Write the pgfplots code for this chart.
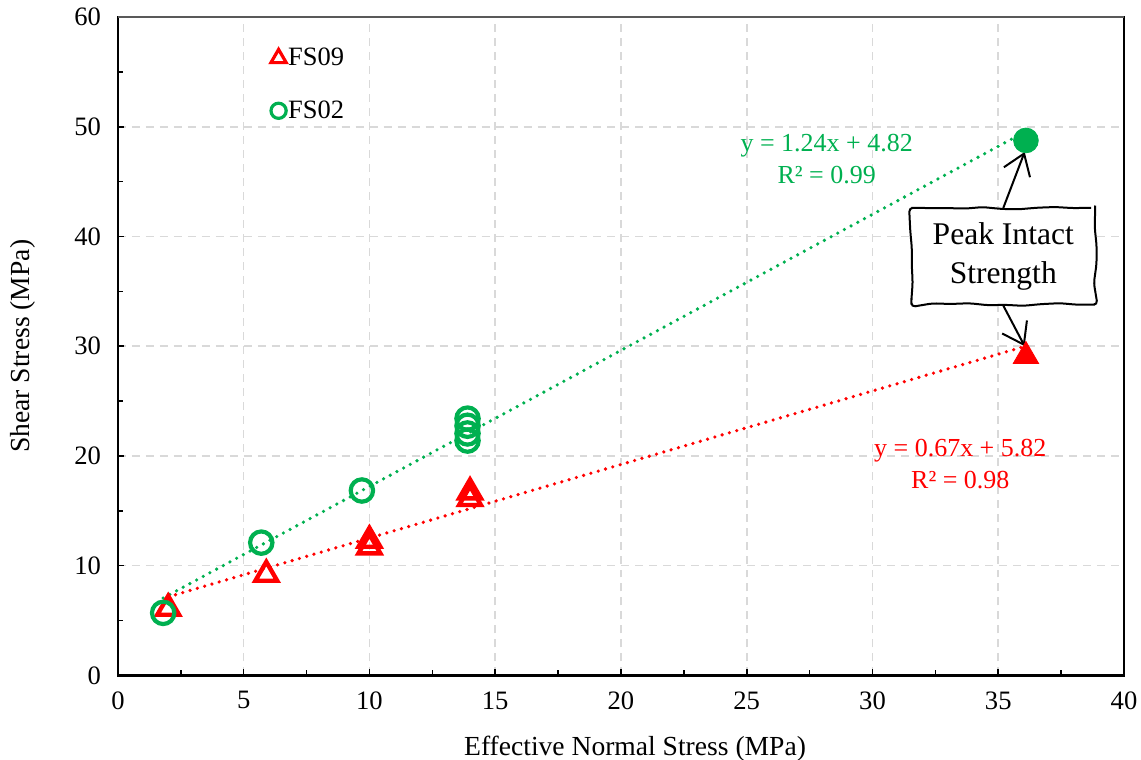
\documentclass[border=0pt]{standalone}
\usepackage{pgfplots}
\pgfplotsset{compat=1.18}
\usepackage{fontspec}
\setmainfont{Liberation Serif}
\usetikzlibrary{arrows.meta,decorations.pathmorphing}
\definecolor{xgreen}{HTML}{00B050}
\definecolor{xred}{HTML}{FF0000}
\definecolor{gridgray}{HTML}{D9D9D9}
\pgfplotstableread{
x y
2.0 6.1
5.9 9.2
10.0 12.3
10.0 11.7
14.0 16.7
14.0 16.1
}\fsnine
\pgfplotstableread{
x y
1.8 5.7
5.7 12.1
9.7 16.85
13.9 23.4
13.9 22.75
13.9 22.05
13.9 21.4
}\fstwo
\begin{document}
\pgfmathsetseed{7}
\begin{tikzpicture}
\begin{axis}[
 name=ax,
 scale only axis, width=503.5pt, height=329.5pt,
 xmin=0, xmax=40, ymin=0, ymax=60,
 xtick={0,5,...,40}, ytick={0,10,...,60},
 minor x tick num=1, minor y tick num=1,
 tick pos=left, tick align=inside,
 major tick length=3pt, minor tick length=2.5pt,
 every tick/.style={black, line width=0.8pt},
 axis line style={black, line width=1.1pt},
 grid=major, major grid style={gridgray, dash pattern=on 4pt off 3pt, line width=0.8pt},
 /pgf/number format/assume math mode=true,
 tick label style={font=\fontsize{13.3}{15}\selectfont},
 xticklabel style={yshift=-4.5pt},
 yticklabel style={xshift=-5pt},
 label style={font=\fontsize{13.8}{16}\selectfont},
 xlabel={Effective Normal Stress (MPa)},
 ylabel={Shear Stress (MPa)},
 xlabel style={at={(axis description cs:0.514,-0.112)}, anchor=center},
 ylabel style={at={(axis description cs:-0.0945,0.5)}, anchor=center},
 clip=false,
 legend cell align=left,
 legend style={at={(axis cs:6.07,57.4)}, anchor=north west, draw=none, fill=none,
   font=\fontsize{13.25}{15}\selectfont, row sep=14pt, inner sep=0pt,
   nodes={inner sep=1pt}},
]
\addlegendimage{only marks, mark=triangle, mark size=4.4pt, line width=1.6pt, xred}
\addlegendentry{FS09}
\addlegendimage{only marks, mark=o, mark size=3.8pt, line width=1.6pt, xgreen}
\addlegendentry{FS02}
% trendlines
\addplot[forget plot, xred, line width=1.8pt, line cap=round, dash pattern=on 0pt off 3.8pt]
  coordinates {(2.0,7.16) (36.1,30.01)};
\addplot[forget plot, xgreen, line width=1.8pt, line cap=round, dash pattern=on 0pt off 3.8pt]
  coordinates {(1.8,7.05) (36.1,49.58)};
% data
\addplot[forget plot, only marks, mark=triangle, mark size=6.3pt, line width=2.2pt, xred]
  table[x=x,y=y] {\fsnine};
\addplot[forget plot, only marks, mark=triangle*, mark size=7.3pt, xred]
  coordinates {(36.1,29.1)};
\addplot[forget plot, only marks, mark=o, mark size=5.6pt, line width=2.1pt, xgreen]
  table[x=x,y=y] {\fstwo};
\addplot[forget plot, only marks, mark=*, mark size=6.2pt, xgreen]
  coordinates {(36.1,48.75)};
% equations
\node[xgreen, align=center, font=\fontsize{13}{16}\selectfont] at (axis cs:28.18,47.07)
  {y = 1.24x + 4.82\\R² = 0.99};
\node[xred, align=center, font=\fontsize{13}{16}\selectfont] at (axis cs:33.49,19.3)
  {y = 0.67x + 5.82\\R² = 0.98};
% callout
\draw[line width=1pt, -{Straight Barb[length=10pt, width=14pt, line width=1pt]}]
  (axis cs:35.2,42.6) -- (axis cs:36.05,47.7);
\draw[line width=1pt, -{Straight Barb[length=10pt, width=14pt, line width=1pt]}]
  (axis cs:35.2,33.7) -- (axis cs:36.05,30.0);
\node[draw, fill=white, line width=1pt, decorate,
  decoration={random steps, segment length=9pt, amplitude=0.8pt},
  rounded corners=2pt, align=center, minimum width=92pt, minimum height=48.5pt,
  font=\fontsize{15.8}{19.5}\selectfont] at (axis cs:35.2,38.2)
  {Peak Intact\\Strength};
\draw[color=black!65, line width=1pt] (rel axis cs:0,1) -- (rel axis cs:1,1);
\end{axis}
\pgfresetboundingbox
\path ([shift={(-56.5pt,-42pt)}]ax.south west) rectangle ([shift={(8.5pt,8.5pt)}]ax.north east);
\end{tikzpicture}
\end{document}
